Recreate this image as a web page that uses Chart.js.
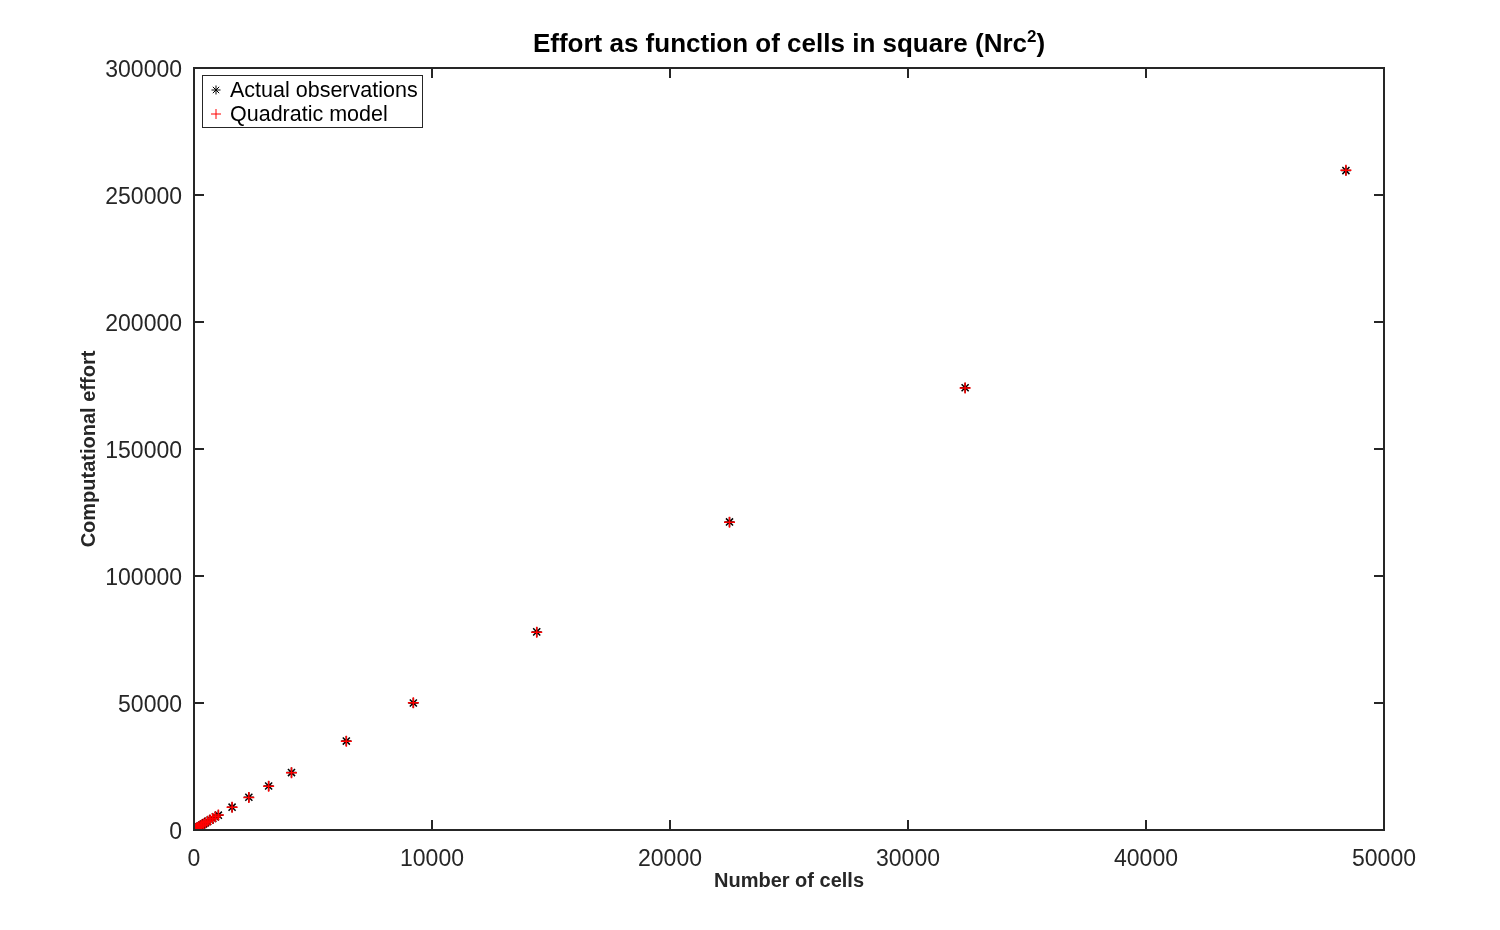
<!DOCTYPE html>
<html>
<head>
<meta charset="utf-8">
<script src="https://cdn.jsdelivr.net/npm/chart.js@4/dist/chart.umd.min.js"></script>
<style>
html,body{margin:0;padding:0;background:#fff;}
#wrap{width:1500px;height:930px;position:relative;}
</style>
</head>
<body>
<div id="wrap"><canvas id="c" width="1500" height="930"></canvas></div>
<script>
// ---- data ----
const cells = [16, 36, 64, 100, 144, 196, 256, 324, 400, 484, 576, 676, 784, 900, 1024, 1600, 2304, 3136, 4096, 6400, 9216, 14400, 22500, 32400, 48400];
const observedEffort = [140, 260, 420, 640, 900, 1200, 1560, 1950, 2380, 2860, 3380, 3940, 4540, 5180, 5850, 9000, 12900, 17300, 22600, 35000, 50000, 78000, 121300, 174100, 259600];
const modelEffort = [150, 270, 430, 650, 910, 1210, 1570, 1960, 2400, 2880, 3400, 3950, 4550, 5190, 5870, 8980, 12800, 17250, 22500, 34900, 50100, 77900, 121200, 174000, 259700];
const xTicks = [0, 10000, 20000, 30000, 40000, 50000];
const yTicks = [0, 50000, 100000, 150000, 200000, 250000, 300000];
const seriesNames = ['Actual observations', 'Quadratic model'];
const titleMain = 'Effort as function of cells in square (Nrc';
const titleSup = '2';
const titleEnd = ')';
const xLabel = 'Number of cells';
const yLabel = 'Computational effort';

const FONT = '"Liberation Sans", Arial, Helvetica, sans-serif';
const AXIS = '#262626';

const toPts = (xs, ys) => xs.map((x, i) => ({x: x, y: ys[i]}));

const framePlugin = {
  id: 'frame',
  afterDatasetsDraw(chart) {
    const {ctx, chartArea: a, scales} = chart;
    ctx.save();
    ctx.strokeStyle = AXIS;
    ctx.lineWidth = 2;
    ctx.strokeRect(a.left, a.top, a.right - a.left, a.bottom - a.top);
    const tl = 10;
    ctx.beginPath();
    xTicks.forEach(v => {
      const px = scales.x.getPixelForValue(v);
      ctx.moveTo(px, a.bottom); ctx.lineTo(px, a.bottom - tl);
      ctx.moveTo(px, a.top); ctx.lineTo(px, a.top + tl);
    });
    yTicks.forEach(v => {
      const py = scales.y.getPixelForValue(v);
      ctx.moveTo(a.left, py); ctx.lineTo(a.left + tl, py);
      ctx.moveTo(a.right, py); ctx.lineTo(a.right - tl, py);
    });
    ctx.stroke();

    // title centered over the plot area, with a real superscript
    ctx.fillStyle = '#000';
    ctx.textBaseline = 'alphabetic';
    ctx.textAlign = 'left';
    const fMain = 'bold 26px ' + FONT, fSup = 'bold 17px ' + FONT;
    ctx.font = fMain; const w1 = ctx.measureText(titleMain).width, w3 = ctx.measureText(titleEnd).width;
    ctx.font = fSup; const w2 = ctx.measureText(titleSup).width;
    const total = w1 + w2 + w3;
    let tx = (a.left + a.right) / 2 - total / 2;
    const base = 52;
    ctx.font = fMain; ctx.fillText(titleMain, tx, base); tx += w1;
    ctx.font = fSup; ctx.fillText(titleSup, tx, base - 10); tx += w2;
    ctx.font = fMain; ctx.fillText(titleEnd, tx, base);

    // legend box inside plot area
    const lx = a.left + 8, ly = a.top + 7, lw = 220, lh = 52;
    ctx.fillStyle = '#fff';
    ctx.fillRect(lx, ly, lw, lh);
    ctx.lineWidth = 1;
    ctx.strokeStyle = AXIS;
    ctx.strokeRect(lx + 0.5, ly + 0.5, lw, lh);
    const ds = chart.data.datasets;
    const rows = [ly + 15, ly + 39];
    [0, 1].forEach(i => {
      const d = ds[i];
      ctx.strokeStyle = d.borderColor;
      Chart.helpers.drawPoint(ctx, {pointStyle: d.pointStyle, radius: d.pointRadius - 0.5, borderWidth: 1.2}, lx + 14, rows[i]);
      ctx.fillStyle = '#000';
      ctx.font = '21.5px ' + FONT;
      ctx.textAlign = 'left';
      ctx.textBaseline = 'middle';
      ctx.fillText(d.label, lx + 28, rows[i] + 1);
    });
    ctx.restore();
  }
};

new Chart(document.getElementById('c'), {
  type: 'scatter',
  data: {
    datasets: [
      {
        label: seriesNames[0],
        data: toPts(cells, observedEffort),
        pointStyle: 'star',
        pointRadius: 5,
        borderColor: '#000',
        backgroundColor: '#000',
        borderWidth: 1.5,
        order: 2
      },
      {
        label: seriesNames[1],
        data: toPts(cells, modelEffort),
        pointStyle: 'cross',
        pointRadius: 5.5,
        borderColor: '#ff0000',
        backgroundColor: '#ff0000',
        borderWidth: 1.5,
        order: 1
      }
    ]
  },
  options: {
    responsive: false,
    animation: false,
    layout: {padding: {top: 68, right: 116, bottom: 0, left: 0}},
    plugins: {
      legend: {display: false},
      title: {display: false},
      tooltip: {enabled: false}
    },
    elements: {point: {hoverRadius: 5}},
    scales: {
      x: {
        type: 'linear',
        min: 0, max: 50000,
        afterFit(s) { s.height = 100; },
        afterBuildTicks(s) { s.ticks = xTicks.map(v => ({value: v})); },
        grid: {display: false, drawTicks: false},
        border: {display: false},
        ticks: {
          color: AXIS,
          padding: 16,
          maxRotation: 0,
          font: {family: FONT, size: 23},
          callback: v => String(v)
        },
        title: {
          display: true,
          text: xLabel,
          color: AXIS,
          font: {family: FONT, size: 20, weight: 'bold'},
          padding: {top: 0, bottom: 37}
        }
      },
      y: {
        type: 'linear',
        min: 0, max: 300000,
        afterFit(s) { s.width = 194; },
        afterBuildTicks(s) { s.ticks = yTicks.map(v => ({value: v})); },
        grid: {display: false, drawTicks: false},
        border: {display: false},
        ticks: {
          color: AXIS,
          padding: 12,
          // two-line label with an empty first line nudges the text 3px down
          font: {family: FONT, size: 23, lineHeight: '6px'},
          callback: v => ['', String(v)]
        },
        title: {
          display: true,
          text: yLabel,
          color: AXIS,
          font: {family: FONT, size: 20, weight: 'bold'},
          padding: {top: 77, bottom: 0}
        }
      }
    }
  },
  plugins: [framePlugin]
});
</script>
</body>
</html>
